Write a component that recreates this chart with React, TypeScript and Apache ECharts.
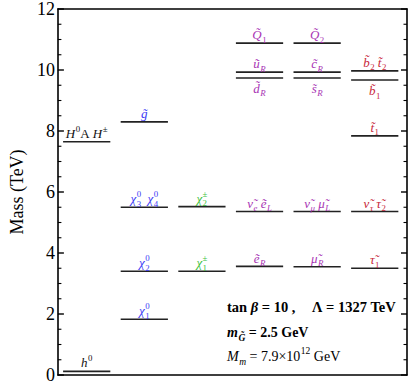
import React, { useEffect, useRef } from "react";
import * as echarts from "echarts";

const FONT = '"Liberation Serif", "Times New Roman", serif';

// ---------- data ----------
type Piece = { t: string; sup?: string; sub?: string; it?: boolean };

const yMin = 0;
const yMax = 12;
const yInterval = 2;
const yMajorTicks = [0, 2, 4, 6, 8, 10, 12];
const yMinorTicks = [0.5, 1, 1.5, 2.5, 3, 3.5, 4.5, 5, 5.5, 6.5, 7, 7.5, 8.5, 9, 9.5, 10.5, 11, 11.5];

const higgsMasses = [0.12, 7.65];
const higgsLabels: Piece[][] = [
  [{ t: "h", sup: "0" }],
  [{ t: "H", sup: "0" }, { t: "A", it: false }, { t: " " }, { t: "H", sup: "±" }],
];
const higgsBelow = [false, false];

const neutralinoMasses = [8.3, 5.5, 3.4, 1.83];
const neutralinoLabels: Piece[][] = [
  [{ t: "g\u0303" }],
  [{ t: "χ", sup: "0", sub: "3" }, { t: "  " }, { t: "χ", sup: "0", sub: "4" }],
  [{ t: "χ", sup: "0", sub: "2" }],
  [{ t: "χ", sup: "0", sub: "1" }],
];
const neutralinoBelow = [false, false, false, false];

const charginoMasses = [5.52, 3.4];
const charginoLabels: Piece[][] = [
  [{ t: "χ", sup: "±", sub: "2" }],
  [{ t: "χ", sup: "±", sub: "1" }],
];
const charginoBelow = [false, false];

const firstGenMasses = [10.88, 9.93, 9.74, 5.36, 3.56];
const firstGenLabels: Piece[][] = [
  [{ t: "Q\u0303", sub: "1" }],
  [{ t: "u\u0303", sub: "R" }],
  [{ t: "d\u0303", sub: "R" }],
  [{ t: "ν\u0303", sub: "e" }, { t: " " }, { t: "e\u0303", sub: "L" }],
  [{ t: "e\u0303", sub: "R" }],
];
const firstGenBelow = [false, false, true, false, false];

const secondGenMasses = [10.88, 9.93, 9.74, 5.36, 3.55];
const secondGenLabels: Piece[][] = [
  [{ t: "Q\u0303", sub: "2" }],
  [{ t: "c\u0303", sub: "R" }],
  [{ t: "s\u0303", sub: "R" }],
  [{ t: "ν\u0303", sub: "μ" }, { t: " " }, { t: "μ\u0303", sub: "L" }],
  [{ t: "μ\u0303", sub: "R" }],
];
const secondGenBelow = [false, false, true, false, false];

const thirdGenMasses = [9.97, 9.67, 7.84, 5.36, 3.5];
const thirdGenLabels: Piece[][] = [
  [{ t: "b\u0303", sub: "2" }, { t: " " }, { t: "t\u0303", sub: "2" }],
  [{ t: "b\u0303", sub: "1" }],
  [{ t: "t\u0303", sub: "1" }],
  [{ t: "ν\u0303", sub: "τ" }, { t: " " }, { t: "τ\u0303", sub: "2" }],
  [{ t: "τ\u0303", sub: "1" }],
];
const thirdGenBelow = [false, true, false, false, false];

// annotation text blocks
const annotationBlocks: { pieces: Piece[]; bold: boolean; x: number; y: number; size: number }[] = [
  { pieces: [{ t: "tan ", it: false }, { t: "β", it: true }, { t: " = 10 ,", it: false }], bold: true, x: 227, y: 312, size: 14.5 },
  { pieces: [{ t: "Λ = 1327 TeV", it: false }], bold: true, x: 312, y: 312, size: 14.5 },
  { pieces: [{ t: "m", sub: "G\u0303", it: true }, { t: " = 2.5 GeV", it: false }], bold: true, x: 227, y: 337, size: 14 },
  { pieces: [{ t: "M", sub: "m", it: true }, { t: " = 7.9×10", sup: "12", it: false }, { t: " GeV", it: false }], bold: false, x: 227, y: 361, size: 14 },
];

// ---------- styling ----------
const X_MIN = -0.5;
const X_MAX = 5.56;
const HALF = 0.41;
const LABEL_SIZE = 13;

const groups = [
  { col: 0, masses: higgsMasses, labels: higgsLabels, below: higgsBelow, color: "#111111" },
  { col: 1, masses: neutralinoMasses, labels: neutralinoLabels, below: neutralinoBelow, color: "#3b3bf5" },
  { col: 2, masses: charginoMasses, labels: charginoLabels, below: charginoBelow, color: "#3cbf3c" },
  { col: 3, masses: firstGenMasses, labels: firstGenLabels, below: firstGenBelow, color: "#a834b4" },
  { col: 4, masses: secondGenMasses, labels: secondGenLabels, below: secondGenBelow, color: "#a834b4" },
  { col: 5, masses: thirdGenMasses, labels: thirdGenLabels, below: thirdGenBelow, color: "#c8283a" },
];

let measureCtx: CanvasRenderingContext2D | null = null;
function fontStr(size: number, italic: boolean, bold: boolean) {
  return `${italic ? "italic " : ""}${bold ? "bold " : ""}${size}px ${FONT}`;
}
function measure(text: string, size: number, italic: boolean, bold: boolean) {
  if (!measureCtx) measureCtx = document.createElement("canvas").getContext("2d");
  if (!measureCtx) return text.length * size * 0.5;
  measureCtx.font = fontStr(size, italic, bold);
  return measureCtx.measureText(text).width;
}

type Item = { text: string; x: number; dy: number; size: number; italic: boolean; bold: boolean };
function layout(pieces: Piece[], size: number, bold: boolean) {
  const items: Item[] = [];
  let cur = 0;
  const ss = size * 0.68;
  for (const p of pieces) {
    const italic = p.it !== false;
    const w = measure(p.t, size, italic, bold);
    items.push({ text: p.t, x: cur, dy: 0, size, italic, bold });
    let extra = 0;
    if (p.sup) {
      const sit = /[A-Za-zμτ]/.test(p.sup);
      const sw = measure(p.sup, ss, sit, bold);
      items.push({ text: p.sup, x: cur + w + 0.5, dy: -size * 0.45, size: ss, italic: sit, bold });
      extra = Math.max(extra, sw + 0.5);
    }
    if (p.sub) {
      const sit = /[A-Za-zμτ]/.test(p.sub);
      const sw = measure(p.sub, ss, sit, bold);
      items.push({ text: p.sub, x: cur + w + 0.5, dy: size * 0.27, size: ss, italic: sit, bold });
      extra = Math.max(extra, sw + 0.5);
    }
    cur += w + extra;
  }
  return { items, width: cur };
}

function textEls(pieces: Piece[], size: number, bold: boolean, left: number, baseline: number, color: string, center: boolean) {
  const lay = layout(pieces, size, bold);
  const x0 = center ? left - lay.width / 2 : left;
  return lay.items.map((it) => ({
    type: "text",
    x: x0 + it.x,
    y: baseline + it.dy - 0.34 * it.size,
    silent: true,
    style: {
      legacy: false,
      text: it.text,
      fill: color,
      font: fontStr(it.size, it.italic, it.bold),
      align: "left",
      verticalAlign: "middle",
    },
  }));
}

// frame ticks, positioned through the y scale
function tickEls(api: any) {
  const out: any[] = [];
  const add = (v: number, major: boolean) => {
    const l = api.coord([X_MIN, v]);
    const r = api.coord([X_MAX, v]);
    const w = major ? 1.4 : 1.1;
    out.push({ type: "line", silent: true, shape: { x1: l[0], y1: l[1], x2: l[0] + (major ? 6 : 3.5), y2: l[1] }, style: { stroke: "#000", lineWidth: w } });
    out.push({ type: "line", silent: true, shape: { x1: r[0] - (major ? 6 : 3.5), y1: r[1], x2: r[0], y2: r[1] }, style: { stroke: "#000", lineWidth: w } });
  };
  yMajorTicks.forEach((v) => add(v, true));
  yMinorTicks.forEach((v) => add(v, false));
  return out;
}

function frameLine() {
  return { show: true, onZero: false, lineStyle: { color: "#000", width: 1.6 } };
}

export default function App() {
  const ref = useRef<HTMLDivElement>(null);
  useEffect(() => {
    if (!ref.current) return;
    const chart = echarts.init(ref.current, undefined, { renderer: "svg" });

    const levelSeries = groups.map((g, gi) => ({
      type: "custom",
      xAxisIndex: 0,
      yAxisIndex: 0,
      clip: false,
      silent: true,
      encode: { x: 0, y: 1 },
      data: g.masses.map((m) => [g.col, m]),
      renderItem: (params: any, api: any) => {
        const col = api.value(0);
        const m = api.value(1);
        const idx = params.dataIndex;
        const a = api.coord([col - HALF, m]);
        const b = api.coord([col + HALF, m]);
        const cx = (a[0] + b[0]) / 2;
        const below = g.below[idx];
        const baseline = below ? a[1] + 15 : a[1] - 4;
        const children: any[] = [
          {
            type: "line",
            shape: { x1: a[0], y1: a[1], x2: b[0], y2: b[1] },
            style: { stroke: "#222222", lineWidth: 1.6 },
          },
          ...textEls(g.labels[idx], LABEL_SIZE, false, cx, baseline, g.color, true),
        ];
        if (gi === 0 && idx === 0) children.push(...tickEls(api));
        return { type: "group", children };
      },
    }));

    const graphic: any[] = [];
    annotationBlocks.forEach((bk) => {
      graphic.push(...textEls(bk.pieces, bk.size, bk.bold, bk.x, bk.y, "#000000", false));
    });

    const xAxisFor = (position: string) => ({
      position,
      type: "value",
      min: X_MIN,
      max: X_MAX,
      axisLine: frameLine(),
      axisTick: { show: false },
      axisLabel: { show: false },
      splitLine: { show: false },
    });

    chart.setOption({
      animation: false,
      grid: { left: 43, right: 4, top: 8, bottom: 9 },
      xAxis: [xAxisFor("bottom"), xAxisFor("top")],
      yAxis: [
        {
          type: "value",
          min: yMin,
          max: yMax,
          interval: yInterval,
          position: "left",
          name: "Mass (TeV)",
          nameLocation: "middle",
          nameGap: 29,
          nameTextStyle: { fontFamily: FONT, fontSize: 18, color: "#000" },
          axisLine: frameLine(),
          axisTick: { show: false },
          minorTick: { show: false },
          axisLabel: { fontFamily: FONT, fontSize: 18, color: "#000", margin: 3 },
          splitLine: { show: false },
        },
        {
          type: "value",
          min: yMin,
          max: yMax,
          interval: yInterval,
          position: "right",
          axisLine: frameLine(),
          axisTick: { show: false },
          minorTick: { show: false },
          axisLabel: { show: false },
          splitLine: { show: false },
        },
      ],
      series: levelSeries,
      graphic,
    });
    return () => chart.dispose();
  }, []);
  return (
    <div
      ref={ref}
      style={{ position: "fixed", left: 0, top: 0, width: 411, height: 384, background: "#fff" }}
    />
  );
}
